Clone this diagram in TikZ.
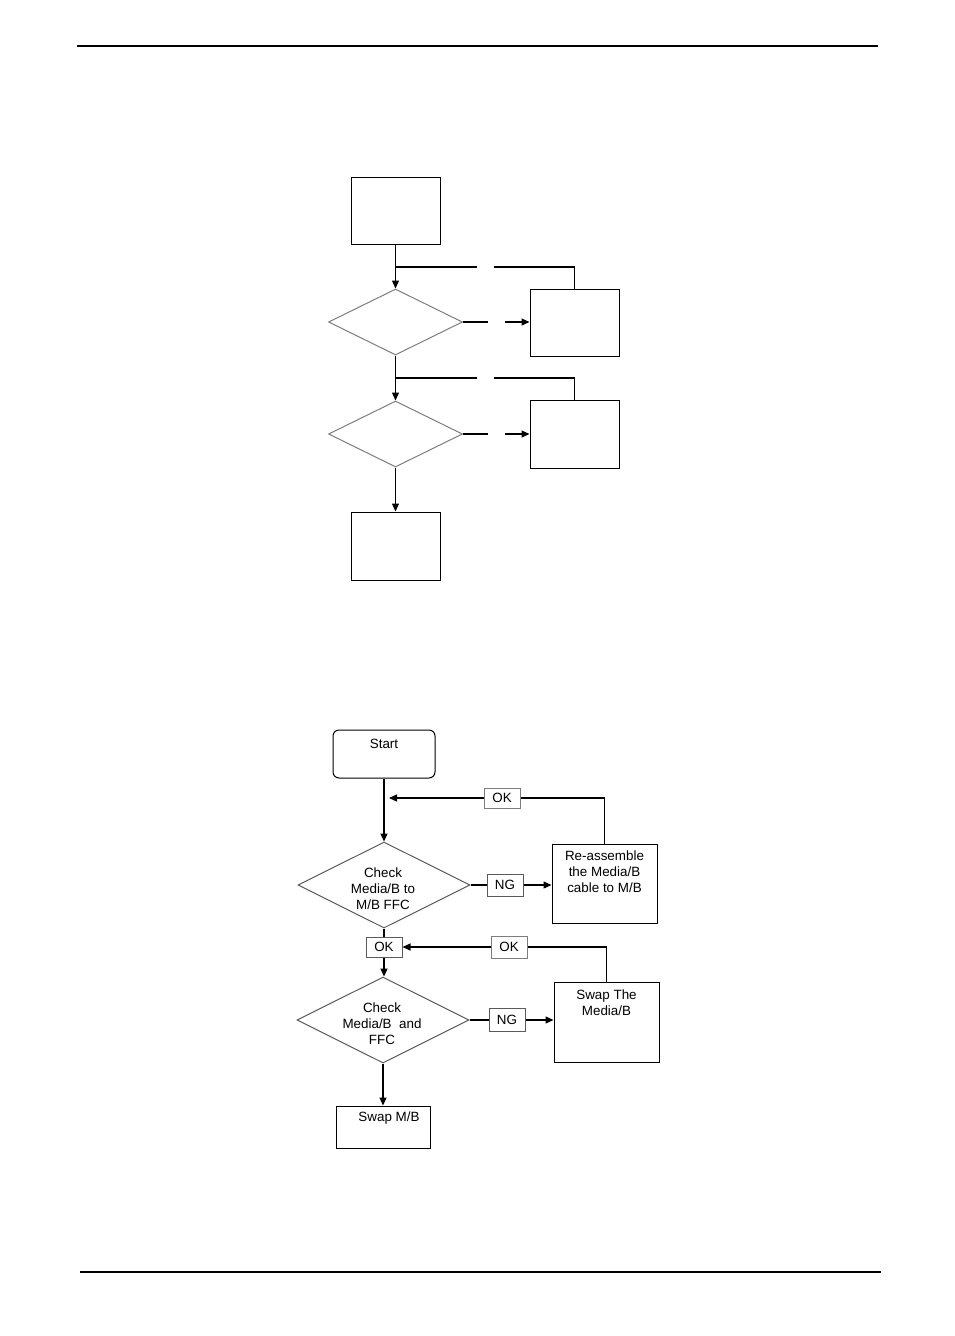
\documentclass[tikz,border=0pt]{standalone}
\usepackage{fontspec}
\setmainfont{Liberation Sans}
\usepackage{tikz}
\usetikzlibrary{shapes.geometric, arrows.meta, positioning, calc}
\definecolor{mydark}{RGB}{0,0,0}
\definecolor{mygray}{RGB}{125,125,125}
\definecolor{lblgray}{RGB}{90,90,90}
\tikzset{
  block/.style={rectangle, draw=mydark, line width=1pt, inner sep=0pt},
  startblock/.style={rectangle, draw=mydark, line width=1pt, inner sep=0pt,
    rounded corners=6pt},
  decision/.style={diamond, draw=mygray, line width=1pt, aspect=2,
    inner sep=0pt, align=center},
  tagbox/.style={rectangle, draw=lblgray, line width=1pt,
    minimum width=36pt, inner sep=0pt},
  gap/.style={rectangle, inner sep=0pt, minimum width=17pt, minimum height=2pt},
  txt/.style={align=center, inner sep=0pt},
  arrow/.style={-{Triangle[length=8pt, width=7pt]}, line width=1.2pt, color=mydark},
  line/.style={line width=1.2pt, color=mydark},
  rule/.style={line width=1.5pt, color=mydark}
}

\begin{document}
\begin{tikzpicture}[x=1pt, y=-1pt,
  every node/.style={font=\fontsize{13.4pt}{16pt}\selectfont}]
  \useasboundingbox (0,0) rectangle (954,1336);

  % Page rules
  \draw[rule] (77,46) -- (878,46);
  \draw[rule] (80,1272) -- (881,1272);

  % Upper chart (blank)
  \node[block, minimum width=89pt, minimum height=67pt] (boxA) at (395.5,210.5) {};
  \node[decision, minimum width=134pt, minimum height=66pt] (decA) at (395.5,322) {};
  \node[block, minimum width=89pt, minimum height=67pt] (boxB) at (574.5,322.5) {};
  \node[decision, minimum width=134pt, minimum height=66pt] (decB) at (395.5,434) {};
  \node[block, minimum width=89pt, minimum height=68pt] (boxC) at (574.5,434) {};
  \node[block, minimum width=89pt, minimum height=68pt] (boxD) at (395.5,546) {};

  \node[gap] (gapA) at (485.5,267) {};
  \node[gap] (gapB) at (496.5,322) {};
  \node[gap] (gapC) at (485.5,378) {};
  \node[gap] (gapD) at (496.5,434) {};
  \coordinate (jA) at (395.5,267);
  \coordinate (jB) at (395.5,378);

  \draw[arrow] (boxA.south) -- (decA.north);
  \draw[line] (jA) -- (gapA.west);
  \draw[line] (gapA.east) -| (boxB.north);
  \draw[line] (decA.east) -- (gapB.west);
  \draw[arrow] (gapB.east) -- (gapB.east -| boxB.west);

  \draw[arrow] (decA.south) -- (decB.north);
  \draw[line] (jB) -- (gapC.west);
  \draw[line] (gapC.east) -| (boxC.north);
  \draw[line] (decB.east) -- (gapD.west);
  \draw[arrow] (gapD.east) -- (gapD.east -| boxC.west);

  \draw[arrow] (decB.south) -- (boxD.north);

  % Lower chart
  \node[startblock, minimum width=102pt, minimum height=48pt] (start) at (384,754) {};
  \node[txt] (starttxt) at (384,744) {Start};

  \node[decision, draw=lblgray, minimum width=172pt, minimum height=86pt] (chk1) at (384,885) {};
  \node[txt] (chk1txt) at (383,889) {Check\\Media/B to\\M/B FFC};
  \node[block, minimum width=105pt, minimum height=79pt] (reasm) at (604.5,883.5) {};
  \node[txt] (reasmtxt) at (604.5,872) {Re-assemble\\the Media/B\\cable to M/B};
  \node[tagbox, minimum height=22pt] (ng1) at (505,885) {NG};
  \node[tagbox, draw=mygray, minimum height=20pt] (ok1) at (502,798) {OK};
  \coordinate (back1) at (389,798);

  \node[tagbox, minimum height=20pt] (ok2) at (384,947) {OK};
  \node[tagbox, draw=mygray, minimum height=22pt] (ok3) at (509,947) {OK};

  \node[decision, draw=lblgray, minimum width=172pt, minimum height=86pt] (chk2) at (383,1020) {};
  \node[txt] (chk2txt) at (382,1024) {Check\\Media/B~~and\\FFC};
  \node[block, minimum width=105pt, minimum height=80pt] (swapmed) at (606.5,1022) {};
  \node[txt] (swapmedtxt) at (606.5,1003) {Swap The\\Media/B};
  \node[tagbox, minimum height=23pt] (ng2) at (507,1020) {NG};

  \node[block, minimum width=94pt, minimum height=42pt] (swapmb) at (383,1127) {};
  \node[txt] (swapmbtxt) at (389,1118) {Swap M/B};

  \draw[arrow] (start.south) -- (chk1.north);
  \draw[line] (chk1.east) -- (ng1.west);
  \draw[arrow] (ng1.east) -- (ng1.east -| reasm.west);
  \draw[line] (reasm.north) |- (ok1.east);
  \draw[arrow] (ok1.west) -- (back1);

  \draw[line] (chk1.south) -- (ok2.north);
  \draw[arrow] (ok2.south) -- (ok2.south |- chk2.north);
  \draw[line] (swapmed.north) |- (ok3.east);
  \draw[arrow] (ok3.west) -- (ok2.east);

  \draw[line] (chk2.east) -- (ng2.west);
  \draw[arrow] (ng2.east) -- (ng2.east -| swapmed.west);
  \draw[arrow] (chk2.south) -- (swapmb.north);
\end{tikzpicture}
\end{document}
